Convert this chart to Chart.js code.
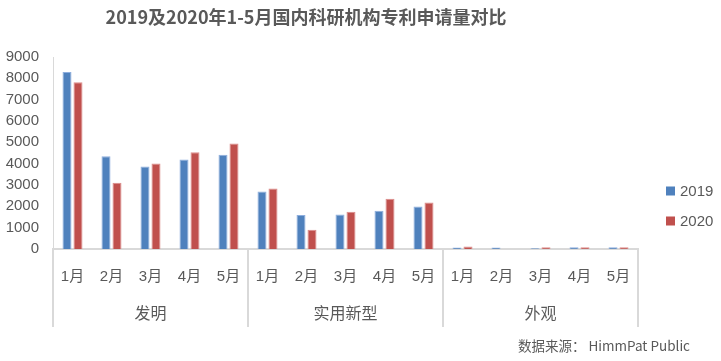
<!DOCTYPE html>
<html>
<head>
<meta charset="utf-8">
<script src="https://cdn.jsdelivr.net/npm/chart.js@4"></script>
<style>
  body { margin: 0; background: #fff; }
  #wrap { width: 721px; height: 361px; position: relative; }
</style>
</head>
<body>
<div id="wrap"><canvas id="grafico"></canvas></div>
<script>
const titulo = "2019及2020年1-5月国内科研机构专利申请量对比";
const fonte = "数据来源： HimmPat Public";
const meses = ["1月", "2月", "3月", "4月", "5月"];
const grupos = ["发明", "实用新型", "外观"];
const series = ["2019", "2020"];
const valores2019 = [8300, 4350, 3870, 4200, 4420, 2690, 1590, 1620, 1790, 1990, 70, 70, 40, 80, 80];
const valores2020 = [7820, 3100, 4010, 4530, 4940, 2840, 900, 1750, 2360, 2180, 120, 0, 80, 80, 80];
const yTicks = [0, 1000, 2000, 3000, 4000, 5000, 6000, 7000, 8000, 9000];

const cinza = "#595959";
const linha = "#d9d9d9";
const familia = "'Liberation Sans', 'Noto Sans CJK SC', sans-serif";
const familiaCJK = "'Noto Sans CJK SC', 'Liberation Sans', sans-serif";

// uma etiqueta por categoria: meses repetidos para cada grupo
const rotulos = [];
grupos.forEach(() => meses.forEach(m => rotulos.push(m)));

const extras = {
  id: "extras",
  afterDraw(chart) {
    const ctx = chart.ctx;
    const x = chart.scales.x;
    const area = chart.chartArea;
    const meia = (x.getPixelForValue(1) - x.getPixelForValue(0)) / 2;
    ctx.save();

    // divisórias entre grupos
    ctx.strokeStyle = linha;
    ctx.lineWidth = 2;
    for (let g = 0; g <= grupos.length; g++) {
      const i = g * meses.length;
      const px = i < rotulos.length ? x.getPixelForValue(i) - meia : x.getPixelForValue(i - 1) + meia;
      ctx.beginPath();
      ctx.moveTo(px, area.bottom);
      ctx.lineTo(px, 327);
      ctx.stroke();
    }

    // nomes dos grupos
    ctx.fillStyle = cinza;
    ctx.font = "16px " + familiaCJK;
    ctx.textAlign = "center";
    ctx.textBaseline = "middle";
    grupos.forEach((g, k) => {
      const centro = x.getPixelForValue(k * meses.length + 2);
      ctx.fillText(g, centro, 313);
    });

    // título
    ctx.font = "bold 18px " + familiaCJK;
    ctx.fillText(titulo, 306, 17);

    // legenda
    ctx.textAlign = "left";
    ctx.font = "15px " + familia;
    chart.data.datasets.forEach((ds, k) => {
      const cy = 191 + k * 30;
      ctx.fillStyle = ds.backgroundColor;
      ctx.fillRect(666, cy - 4.5, 9, 9);
      ctx.fillStyle = cinza;
      ctx.fillText(ds.label, 680, cy + 1);
    });

    // fonte
    ctx.font = "13.5px " + familiaCJK;
    ctx.textAlign = "right";
    ctx.fillText(fonte, 690, 346);
    ctx.restore();
  }
};

new Chart(document.getElementById("grafico"), {
  type: "bar",
  data: {
    labels: rotulos,
    datasets: [
      {
        label: series[0],
        data: valores2019,
        backgroundColor: "#4F81BD",
        borderColor: "#8eaede",
        borderWidth: 1,
      },
      {
        label: series[1],
        data: valores2020,
        backgroundColor: "#C0504D",
        borderColor: "#dd8c8a",
        borderWidth: 1,
      },
    ],
  },
  options: {
    responsive: true,
    maintainAspectRatio: false,
    animation: false,
    layout: { padding: { left: 0, right: 83, top: 57, bottom: 0 } },
    datasets: { bar: { categoryPercentage: 0.564, barPercentage: 0.82 } },
    plugins: {
      legend: { display: false },
      title: { display: false },
      tooltip: { enabled: false },
    },
    scales: {
      x: {
        grid: { display: false },
        border: { display: true, color: linha, width: 2 },
        ticks: {
          color: cinza,
          font: { size: 15, family: familia },
          maxRotation: 0,
          autoSkip: false,
          padding: 11,
        },
        afterFit(scale) { scale.height = 112; },
      },
      y: {
        min: 0,
        max: 9000,
        afterBuildTicks(scale) { scale.ticks = yTicks.map(v => ({ value: v })); },
        grid: { display: false, drawTicks: false },
        border: { display: true, color: linha, width: 1 },
        ticks: {
          color: cinza,
          font: { size: 15, family: familia },
          padding: 14,
          callback: v => String(v),
        },
        afterFit(scale) { scale.width = 53; },
      },
    },
  },
  plugins: [extras],
});
</script>
</body>
</html>
